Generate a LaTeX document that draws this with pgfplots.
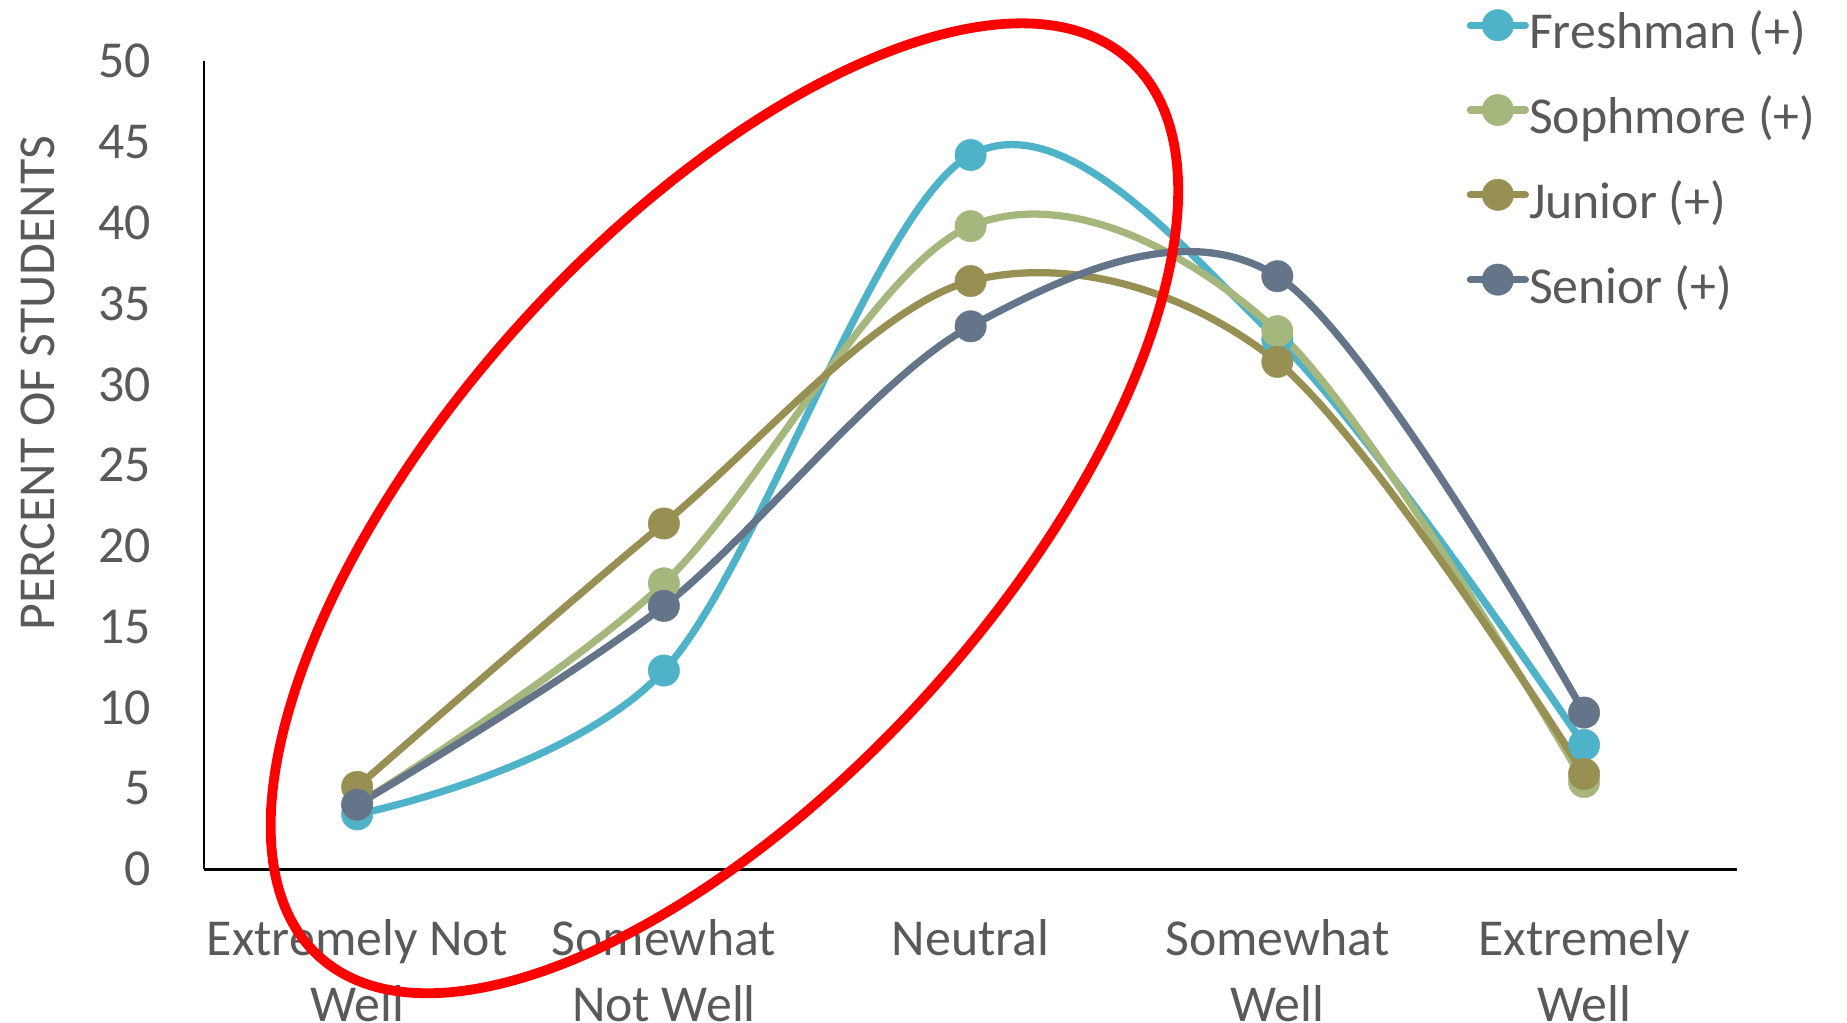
\documentclass[border=0pt]{standalone}
\usepackage{fontspec}
\setmainfont{Carlito}
\usepackage{pgfplots}
\pgfplotsset{compat=1.18}
\definecolor{fresh}{HTML}{4EB3C8}
\definecolor{soph}{HTML}{A6B77D}
\definecolor{junior}{HTML}{988F53}
\definecolor{senior}{HTML}{647589}
\definecolor{labelgray}{HTML}{595959}
\begin{document}
\begin{tikzpicture}
\begin{axis}[
  at={(0,0)}, anchor=south west,
  scale only axis, width=390.6pt, height=205.8pt,
  xmin=-0.5, xmax=4.5, ymin=0, ymax=50,
  xtick={0,1,2,3,4},
  xticklabels={{Extremely Not\\Well},{Somewhat\\Not Well},{Neutral},{Somewhat\\Well},{Extremely\\Well}},
  ytick={0,5,...,50},
  axis x line*=bottom, axis y line*=left,
  axis line style={-, black, line width=0.6pt},
  major tick length=0pt,
  /pgf/number format/assume math mode=true,
  tick label style={font=\fontsize{13.2}{16.8}\selectfont, text=labelgray},
  yticklabel style={anchor=east, inner sep=0pt, xshift=-13.2pt},
  xticklabel style={align=center, anchor=north, inner sep=0pt, yshift=-12.5pt},
  ylabel={PERCENT OF STUDENTS},
  every axis y label/.style={at={(axis description cs:-0.1083,0.602)}, rotate=90, anchor=center,
     font=\fontsize{13.2}{16}\selectfont, text=labelgray, inner sep=0pt},
  clip=false,
  legend style={at={(axis description cs:0.8235,1.0641)}, anchor=north west,
     draw=none, fill=none, inner sep=0pt, outer sep=0pt,
     row sep=8.1pt, column sep=0pt,
     font=\fontsize{13.2}{16}\selectfont, text=labelgray,
     nodes={inner sep=0pt, text height=9.5pt, text depth=3.5pt}},
  legend cell align=left,
  legend image code/.code={\draw[mark repeat=2,mark phase=2,#1] plot coordinates {(0pt,3pt) (7pt,3pt) (14pt,3pt)};},
  every axis plot/.append style={line width=1.85pt, line cap=round, smooth, tension=0.55, mark=*, mark size=4pt},
]
\addplot[fresh, mark options={fill=fresh, draw=fresh, line width=0.1pt}] coordinates {(0,3.4) (1,12.3) (2,44.2) (3,32.8) (4,7.7)};
\addlegendentry{Freshman (+)}
\addplot[soph, mark options={fill=soph, draw=soph, line width=0.1pt}] coordinates {(0,4.0) (1,17.7) (2,39.8) (3,33.3) (4,5.4)};
\addlegendentry{Sophmore (+)}
\addplot[junior, mark options={fill=junior, draw=junior, line width=0.1pt}] coordinates {(0,5.1) (1,21.4) (2,36.4) (3,31.4) (4,5.9)};
\addlegendentry{Junior (+)}
\addplot[senior, mark options={fill=senior, draw=senior, line width=0.1pt}] coordinates {(0,4.0) (1,16.3) (2,33.6) (3,36.7) (4,9.7)};
\addlegendentry{Senior (+)}
\end{axis}
\draw[red, line width=2.5pt, rotate around={47.9:(132.6pt,91.95pt)}] (132.6pt,91.95pt) ellipse [x radius=153.9pt, y radius=70.1pt];
\pgfresetboundingbox
\useasboundingbox (-51.9pt,-39.0pt) rectangle (418.5pt,221.4pt);
\end{tikzpicture}
\end{document}
